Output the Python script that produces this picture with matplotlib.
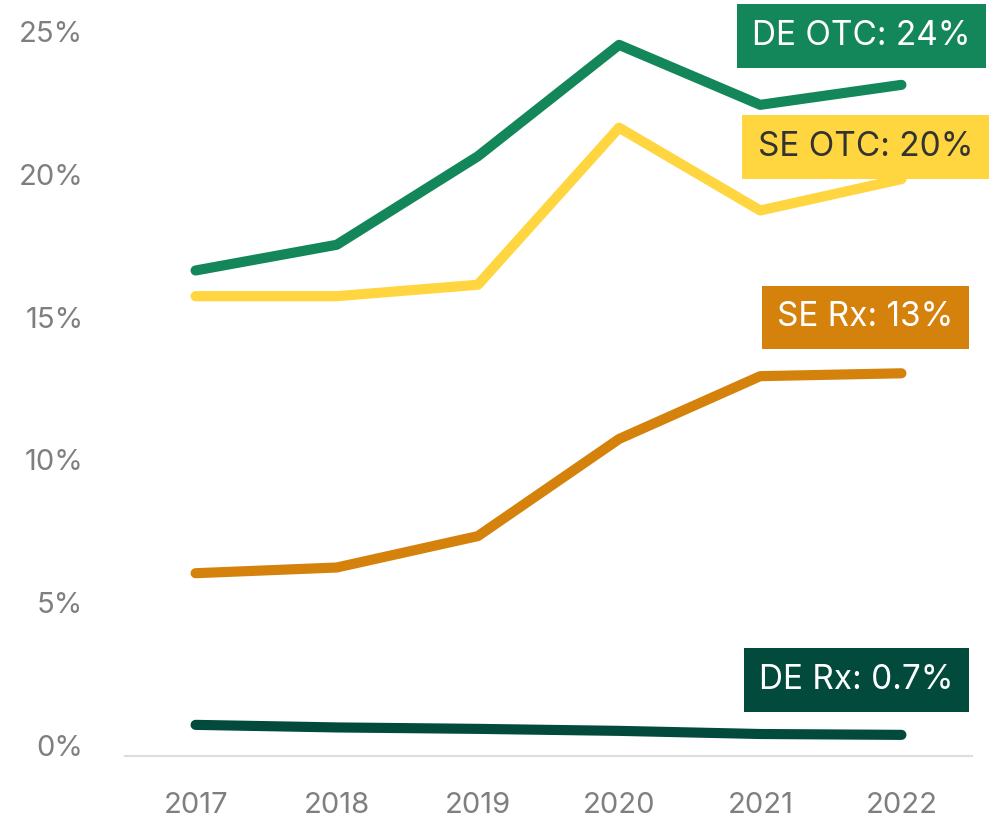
import numpy as np
import matplotlib
matplotlib.use("Agg")
import matplotlib.pyplot as plt
from matplotlib.ticker import FuncFormatter

plt.rcParams['font.family'] = ['Inter', 'DejaVu Sans']

years = [2017, 2018, 2019, 2020, 2021, 2022]

de_otc = [17.0, 17.9, 21.0, 24.9, 22.8, 23.5]
se_otc = [16.1, 16.1, 16.5, 22.0, 19.1, 20.2]
se_rx = [6.4, 6.6, 7.7, 11.1, 13.3, 13.4]
de_rx = [1.09, 1.0, 0.95, 0.88, 0.77, 0.74]

series_names = ['DE OTC', 'SE OTC', 'SE Rx', 'DE Rx']
series_values = [de_otc, se_otc, se_rx, de_rx]
end_labels = ['24%', '20%', '13%', '0.7%']

colors = ['#13875a', '#ffd540', '#d4820c', '#024b3c']
text_colors = ['white', '#333333', 'white', 'white']
# label box offsets from the last point, in pixels
label_offsets = [(-40, 49), (-36, 32), (-36, 56), (-45, 55)]

fig = plt.figure(figsize=(10, 8.22), dpi=100)
ax = fig.add_axes([0.125, 0.0803, 0.847, 0.8686])

for name, vals, col in zip(series_names, series_values, colors):
    ax.plot(years, vals, color=col, lw=7.3, solid_capstyle='round',
            solid_joinstyle='round', clip_on=False, zorder=3)

for name, vals, lab, col, tcol, off in zip(series_names, series_values, end_labels,
                                          colors, text_colors, label_offsets):
    ax.annotate(f'{name}: {lab}', xy=(years[-1], vals[-1]),
                xytext=(off[0] * 0.72, off[1] * 0.72), textcoords='offset points',
                ha='center', va='center', fontsize=24, color=tcol, zorder=5,
                bbox=dict(boxstyle='square,pad=0.47', fc=col, ec='none'))

ax.set_xlim(2016.5, 2022.5)
ax.set_ylim(0, 25)
ax.set_xticks(years)
ax.set_yticks([0, 5, 10, 15, 20, 25])
ax.yaxis.set_major_formatter(FuncFormatter(lambda v, p: f'{v:.0f}%'))

for s in ['top', 'right', 'left']:
    ax.spines[s].set_visible(False)
ax.spines['bottom'].set_color('#dddddd')
ax.spines['bottom'].set_linewidth(1.5)

ax.tick_params(axis='both', length=0, labelsize=21, labelcolor='#7f7f7f')
ax.tick_params(axis='y', pad=30)
ax.tick_params(axis='x', pad=26)
for lbl in ax.get_yticklabels():
    lbl.set_va('baseline')

fig.savefig('out.png', dpi=100, facecolor='white')
